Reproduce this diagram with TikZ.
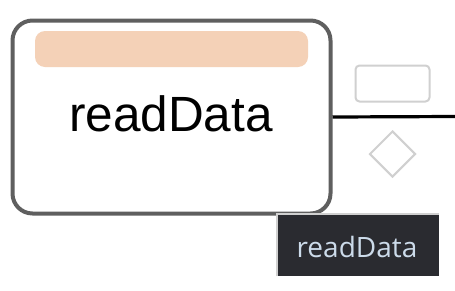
\documentclass[tikz,border=0pt]{standalone}
\usepackage{fontspec}
\setmainfont{Liberation Sans}
\newfontfamily\tipfont{Open Sans}
\usetikzlibrary{shapes.geometric}
\definecolor{taskgray}{HTML}{5F5F5F}
\definecolor{barorange}{HTML}{F4D1B7}
\definecolor{ghostgray}{HTML}{D0D0D0}
\definecolor{tipbg}{HTML}{2A2B30}
\definecolor{tiptext}{HTML}{CCDBEA}
\tikzstyle{task} = [draw=taskgray,line width=4pt,rounded corners=20pt,fill=white,minimum width=318pt,minimum height=193pt,inner sep=0pt]
\tikzstyle{ghost} = [draw=ghostgray,line width=2pt,fill=white,inner sep=0pt]
\tikzstyle{flow} = [line width=3.2pt,black]

\begin{document}
\begin{tikzpicture}[x=1pt,y=-1pt]
        \useasboundingbox (0,0) rectangle (455,290);
        \node[task] at (171.5,117) (t) {};
        \node[fill=barorange, rounded corners=10pt, minimum width=273pt, minimum height=36pt, inner sep=0pt] at (171.5,49) (bar) {};
        \node[font=\fontsize{49.5}{49.5}\selectfont, anchor=base] at (171,131) (tname) {readData};
        \coordinate (out) at (455,116.5);

        \draw[flow] (t.east) -- (out);

        \node[ghost, rounded corners=4pt, minimum width=74pt, minimum height=36pt] at (392.5,83.5) (r) {};
        \node[ghost, diamond, minimum width=46pt, minimum height=46pt] at (392.5,154) (d) {};

        \node[fill=tipbg, minimum width=162pt, minimum height=62pt, inner sep=0pt, anchor=north west] at (277,214) (tip) {};
        \draw[ghostgray, line width=1.5pt] (tip.south west) -- (tip.north west) -- (tip.north east);
        \node[font=\tipfont\fontsize{28}{28}\selectfont, text=tiptext, anchor=base] at (357,257) (tiptxt) {readData};

      \end{tikzpicture}
\end{document}
